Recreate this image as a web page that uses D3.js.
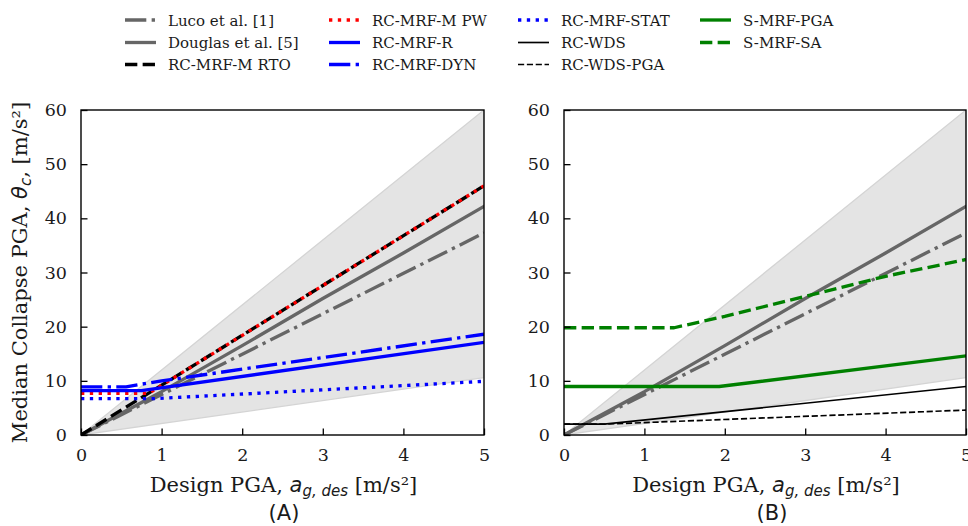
<!DOCTYPE html>
<html>
<head>
<meta charset="utf-8">
<script src="https://cdn.jsdelivr.net/npm/d3@7"></script>
<style>
  html, body { margin: 0; padding: 0; background: #fff; overflow: hidden; }
  text { font-family: "DejaVu Serif", serif; fill: #1a1a1a; }
  .math { font-family: "DejaVu Sans", sans-serif; font-style: italic; }
  .panel-tag { font-family: "DejaVu Sans", sans-serif; }
</style>
</head>
<body>
<div id="chart"></div>
<script>
// values
const xTicks = [0, 1, 2, 3, 4, 5];
const yTicks = [0, 10, 20, 30, 40, 50, 60];

const bandX = [0, 5];
const bandLow = [0, 10.6];
const bandHigh = [0, 60];

const lucoX = [0, 5];
const lucoY = [0, 37.3];
const douglasX = [0, 1, 2, 3, 4, 5];
const douglasY = [0, 8.0, 16.5, 25.2, 33.6, 42.2];

const rtoX = [0, 5];
const rtoY = [0, 46.0];
const pwX = [0, 0.84, 5];
const pwY = [7.7, 7.7, 46.0];
const rX = [0, 0.75, 5];
const rY = [8.2, 8.2, 17.1];
const dynX = [0, 0.56, 1, 5];
const dynY = [8.9, 8.9, 10.0, 18.6];
const statX = [0, 0.9, 5];
const statY = [6.7, 6.7, 9.9];

const wdsX = [0, 0.5, 5];
const wdsY = [2.0, 2.0, 8.95];
const wdsPgaX = [0, 0.5, 5];
const wdsPgaY = [2.0, 2.0, 4.6];
const smrfPgaX = [0, 1.93, 5];
const smrfPgaY = [8.95, 8.95, 14.6];
const smrfSaX = [0, 1.37, 2, 3, 4, 5];
const smrfSaY = [19.8, 19.8, 21.9, 25.6, 29.3, 32.4];

const seriesNames = [
  "Luco et al. [1]", "Douglas et al. [5]", "RC-MRF-M RTO",
  "RC-MRF-M PW", "RC-MRF-R", "RC-MRF-DYN",
  "RC-MRF-STAT", "RC-WDS", "RC-WDS-PGA",
  "S-MRF-PGA", "S-MRF-SA"
];

// line styles (matplotlib-like: lw 2 -> 3.33px, lw 1 -> 1.67px)
const THICK = 3.33, THIN = 1.67;
const dash = (lw) => `${3.7 * lw},${1.6 * lw}`;
const dot = (lw) => `${1 * lw},${1.65 * lw}`;
const dashdot = (lw) => `${6.4 * lw},${1.6 * lw},${1 * lw},${1.6 * lw}`;

const STYLE = {
  "Luco et al. [1]":    { color: "#666666", width: THICK, dash: dashdot(THICK) },
  "Douglas et al. [5]": { color: "#666666", width: THICK, dash: null },
  "RC-MRF-M RTO":       { color: "#000000", width: THICK, dash: dash(THICK) },
  "RC-MRF-M PW":        { color: "#ff0000", width: THICK, dash: dot(THICK) },
  "RC-MRF-R":           { color: "#0000ff", width: THICK, dash: null },
  "RC-MRF-DYN":         { color: "#0000ff", width: THICK, dash: dashdot(THICK) },
  "RC-MRF-STAT":        { color: "#0000ff", width: THICK, dash: dot(THICK) },
  "RC-WDS":             { color: "#000000", width: THIN, dash: null },
  "RC-WDS-PGA":         { color: "#000000", width: THIN, dash: dash(THIN) },
  "S-MRF-PGA":          { color: "#008000", width: THICK, dash: null },
  "S-MRF-SA":           { color: "#008000", width: THICK, dash: dash(THICK) }
};

const zip = (xs, ys) => xs.map((x, i) => [x, ys[i]]);

const panelA = [
  { name: "Luco et al. [1]", pts: zip(lucoX, lucoY) },
  { name: "Douglas et al. [5]", pts: zip(douglasX, douglasY) },
  { name: "RC-MRF-M RTO", pts: zip(rtoX, rtoY) },
  { name: "RC-MRF-M PW", pts: zip(pwX, pwY) },
  { name: "RC-MRF-R", pts: zip(rX, rY) },
  { name: "RC-MRF-DYN", pts: zip(dynX, dynY) },
  { name: "RC-MRF-STAT", pts: zip(statX, statY) }
];
const panelB = [
  { name: "Luco et al. [1]", pts: zip(lucoX, lucoY) },
  { name: "Douglas et al. [5]", pts: zip(douglasX, douglasY) },
  { name: "RC-WDS", pts: zip(wdsX, wdsY) },
  { name: "RC-WDS-PGA", pts: zip(wdsPgaX, wdsPgaY) },
  { name: "S-MRF-PGA", pts: zip(smrfPgaX, smrfPgaY) },
  { name: "S-MRF-SA", pts: zip(smrfSaX, smrfSaY) }
];

const W = 968, H = 526;
const svg = d3.select("#chart").append("svg")
  .attr("width", W).attr("height", H)
  .attr("viewBox", `0 0 ${W} ${H}`);

function drawPanel(id, left, right, series, tag, tagX, withYLabel) {
  const x = d3.scaleLinear().domain([0, 5]).range([left, right]);
  const y = d3.scaleLinear().domain([0, 60]).range([435, 110]);
  const g = svg.append("g");

  svg.append("clipPath").attr("id", `clip-${id}`)
    .append("rect")
    .attr("x", left).attr("y", 110)
    .attr("width", right - left).attr("height", 325);

  const plot = g.append("g").attr("clip-path", `url(#clip-${id})`);

  // scatter band
  const band = bandX.map((d, i) => ({ x: d, lo: bandLow[i], hi: bandHigh[i] }));
  plot.append("path")
    .datum(band)
    .attr("d", d3.area().x((d) => x(d.x)).y0((d) => y(d.lo)).y1((d) => y(d.hi)))
    .attr("fill", "#e4e4e4")
    .attr("stroke", "#d4d4d4")
    .attr("stroke-width", 1.3);

  const line = d3.line().x((d) => x(d[0])).y((d) => y(d[1]));
  plot.selectAll("path.series")
    .data(series)
    .join("path")
    .attr("class", "series")
    .attr("d", (d) => line(d.pts))
    .attr("fill", "none")
    .attr("stroke", (d) => STYLE[d.name].color)
    .attr("stroke-width", (d) => STYLE[d.name].width)
    .attr("stroke-dasharray", (d) => STYLE[d.name].dash)
    .attr("stroke-linecap", (d) => (STYLE[d.name].dash ? "butt" : "square"))
    .attr("stroke-linejoin", "round");

  // inward ticks, bottom and left
  g.append("g").attr("transform", "translate(0,435)")
    .call(d3.axisBottom(x).tickValues(xTicks).tickSize(-6.5).tickPadding(14).tickFormat(d3.format("d")))
    .call((a) => a.select(".domain").remove())
    .call((a) => a.selectAll("line").attr("stroke", "#000").attr("stroke-width", 1.3))
    .call((a) => a.selectAll("text").attr("font-size", 17.5).attr("font-family", "DejaVu Serif").attr("fill", "#1a1a1a"));

  g.append("g").attr("transform", `translate(${left},0)`)
    .call(d3.axisLeft(y).tickValues(yTicks).tickSize(-6.5).tickPadding(14).tickFormat(d3.format("d")))
    .call((a) => a.select(".domain").remove())
    .call((a) => a.selectAll("line").attr("stroke", "#000").attr("stroke-width", 1.3))
    .call((a) => a.selectAll("text").attr("font-size", 17.5).attr("font-family", "DejaVu Serif").attr("fill", "#1a1a1a"));

  g.append("rect")
    .attr("x", left).attr("y", 110)
    .attr("width", right - left).attr("height", 325)
    .attr("fill", "none").attr("stroke", "#000").attr("stroke-width", 1.4);

  // x label
  const xl = g.append("text")
    .attr("x", (left + right) / 2 + 1).attr("y", 492)
    .attr("text-anchor", "middle").attr("font-size", 21);
  xl.append("tspan").text("Design PGA, ");
  xl.append("tspan").attr("class", "math").text("a");
  xl.append("tspan").attr("class", "math").attr("font-size", 15).attr("dy", 4).text("g, des");
  xl.append("tspan").attr("dy", -4).text(" [m/s²]");

  g.append("text").attr("class", "panel-tag")
    .attr("x", tagX).attr("y", 520)
    .attr("text-anchor", "middle").attr("font-size", 21)
    .text(tag);

  if (withYLabel) {
    const yl = g.append("text")
      .attr("transform", `translate(27,${(110 + 435) / 2}) rotate(-90)`)
      .attr("text-anchor", "middle").attr("font-size", 21);
    yl.append("tspan").text("Median Collapse PGA, ");
    yl.append("tspan").attr("class", "math").text("θ");
    yl.append("tspan").attr("class", "math").attr("font-size", 15).attr("dy", 4).text("c");
    yl.append("tspan").attr("dy", -4).text(", [m/s²]");
  }
}

drawPanel("a", 81, 484, panelA, "(A)", 284, true);
drawPanel("b", 564, 966, panelB, "(B)", 772, false);

// legend, 4 columns filled column-wise
const legendCols = [123, 327, 516, 698];
const legendRows = [20, 42.5, 64.5];
const legend = svg.append("g")
  .selectAll("g")
  .data(seriesNames)
  .join("g")
  .attr("transform", (d, i) => `translate(${legendCols[Math.floor(i / 3)]},${legendRows[i % 3]})`);

legend.append("line")
  .attr("x1", 2).attr("x2", 33)
  .attr("stroke", (d) => STYLE[d].color)
  .attr("stroke-width", (d) => STYLE[d].width)
  .attr("stroke-dasharray", (d) => STYLE[d].dash)
  .attr("stroke-linecap", "butt");

legend.append("text")
  .attr("x", 45).attr("y", 5.5)
  .attr("font-size", 15)
  .text((d) => d);
</script>
</body>
</html>
